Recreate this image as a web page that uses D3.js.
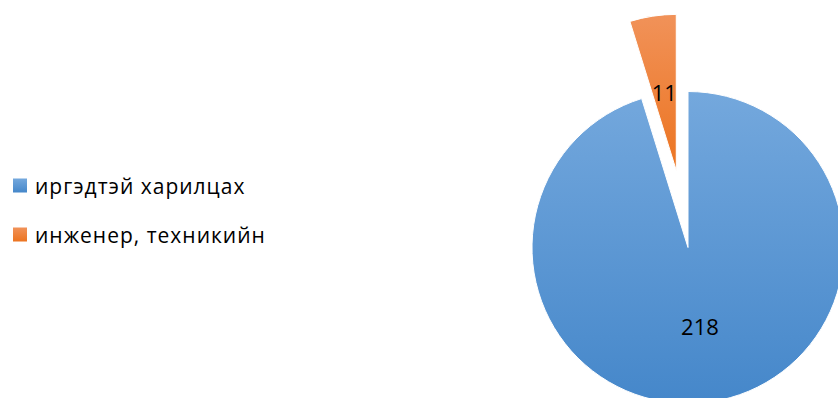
<!DOCTYPE html>
<html><head><meta charset="utf-8">
<script src="https://cdn.jsdelivr.net/npm/d3@7"></script>
<style>body{margin:0;background:#fff;}svg{display:block;}</style>
</head><body>
<svg id="c" width="838" height="398"></svg>
<script>
const categories = ["иргэдтэй харилцах", "инженер, техникийн"];
const values = [218, 11];
const topColors = ["#74a8dd", "#f19259"];
const bottomColors = ["#4587ca", "#ec7420"];

const svg = d3.select("#c");
const cx = 688, cy = 247.5, r = 156;
const explode = [0, 78];

const defs = svg.append("defs");
categories.forEach((c, i) => {
  const g = defs.append("linearGradient").attr("id", "g" + i)
    .attr("x1", 0).attr("y1", 0).attr("x2", 0).attr("y2", 1);
  g.append("stop").attr("offset", "0%").attr("stop-color", topColors[i]);
  g.append("stop").attr("offset", "100%").attr("stop-color", bottomColors[i]);
});

const pie = d3.pie().sort(null).value(d => d);
const arcs = pie(values);
const arc = d3.arc().innerRadius(0).outerRadius(r);
const labelArc = d3.arc().innerRadius(r * 0.51).outerRadius(r * 0.51);

const gPie = svg.append("g").attr("transform", `translate(${cx},${cy})`);
const slice = gPie.selectAll("g.s").data(arcs).enter().append("g")
  .attr("transform", (d, i) => {
    const m = (d.startAngle + d.endAngle) / 2;
    return `translate(${Math.sin(m) * explode[i]},${-Math.cos(m) * explode[i]})`;
  });
slice.append("path").attr("d", arc).attr("fill", (d, i) => `url(#g${i})`)
  .attr("stroke", "#fff").attr("stroke-width", 1);
slice.append("text")
  .attr("transform", d => `translate(${labelArc.centroid(d)})`)
  .attr("text-anchor", "middle").attr("dy", "0.4em")
  .attr("font-family", "Open Sans, sans-serif").attr("font-size", 22)
  .attr("fill", "#000")
  .text(d => d.data);

const legend = svg.append("g");
categories.forEach((c, i) => {
  const y = 186 + i * 49;
  legend.append("rect").attr("x", 13).attr("y", y - 7.5).attr("width", 14).attr("height", 14)
    .attr("fill", `url(#g${i})`);
  legend.append("text").attr("x", 35).attr("y", y).attr("dy", "0.36em")
    .attr("font-family", "Open Sans, sans-serif").attr("font-size", 21)
    .attr("letter-spacing", "1px")
    .attr("fill", "#000").text(c);
});
</script>
</body></html>
